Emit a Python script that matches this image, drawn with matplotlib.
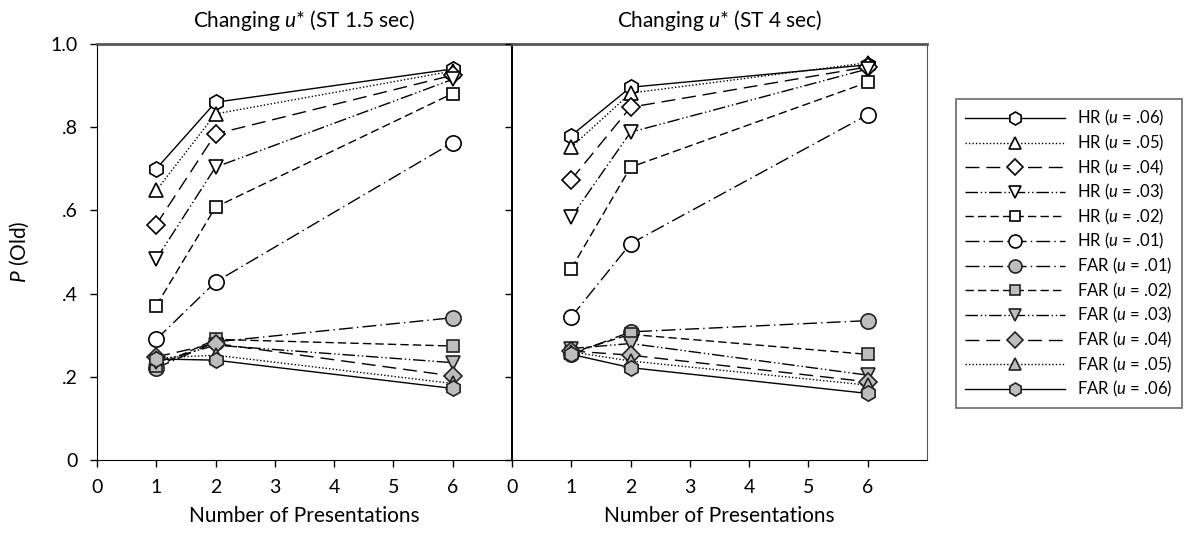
import numpy as np
import matplotlib
matplotlib.use('Agg')
import matplotlib.pyplot as plt
from matplotlib.lines import Line2D

fam = 'Lato'
plt.rcParams['font.family'] = [fam, 'DejaVu Sans']
plt.rcParams['mathtext.fontset'] = 'custom'
plt.rcParams['mathtext.rm'] = fam
plt.rcParams['mathtext.it'] = fam + ':italic'

## Data ##
presentations = [1, 2, 6]
u_labels = ['.06', '.05', '.04', '.03', '.02', '.01']

# ST 1.5 sec
hr_15 = {'.06': [0.700, 0.860, 0.940],
         '.05': [0.648, 0.832, 0.935],
         '.04': [0.566, 0.784, 0.925],
         '.03': [0.483, 0.704, 0.915],
         '.02': [0.371, 0.608, 0.881],
         '.01': [0.290, 0.428, 0.763]}
far_15 = {'.01': [0.221, 0.284, 0.342],
          '.02': [0.225, 0.290, 0.274],
          '.03': [0.235, 0.276, 0.234],
          '.04': [0.248, 0.280, 0.202],
          '.05': [0.245, 0.252, 0.184],
          '.06': [0.243, 0.240, 0.172]}

# ST 4 sec
hr_4 = {'.06': [0.780, 0.896, 0.950],
        '.05': [0.752, 0.882, 0.955],
        '.04': [0.674, 0.848, 0.945],
        '.03': [0.584, 0.788, 0.940],
        '.02': [0.460, 0.704, 0.908],
        '.01': [0.344, 0.520, 0.830]}
far_4 = {'.01': [0.254, 0.308, 0.335],
         '.02': [0.258, 0.302, 0.254],
         '.03': [0.268, 0.280, 0.204],
         '.04': [0.262, 0.252, 0.188],
         '.05': [0.260, 0.238, 0.180],
         '.06': [0.254, 0.222, 0.160]}

# styles per u value
marker = {'.06': 'h', '.05': '^', '.04': 'D', '.03': 'v', '.02': 's', '.01': 'o'}
msize = {'.06': 11, '.05': 10, '.04': 9, '.03': 10, '.02': 9, '.01': 11}
lstyle = {'.06': '-',
          '.05': (0, (1, 1.5)),
          '.04': (0, (10, 5)),
          '.03': (0, (9, 2, 1, 2, 1, 2)),
          '.02': (0, (6, 3)),
          '.01': (0, (10, 3, 1, 3))}
gray = '#bdbdbd'

fig = plt.figure(figsize=(11.88, 5.33), dpi=100)
ax1 = fig.add_axes([97/1188, 1-460/533, 415/1188, 416/533])
ax2 = fig.add_axes([512/1188, 1-460/533, 415/1188, 416/533])


def draw(ax, hr, far):
    for u in u_labels:
        ax.plot(presentations, hr[u], linestyle=lstyle[u], color='black', lw=1,
                marker=marker[u], ms=msize[u], mfc='white', mec='black', mew=1.2)
    for u in u_labels[::-1]:
        ax.plot(presentations, far[u], linestyle=lstyle[u], color='black', lw=1,
                marker=marker[u], ms=msize[u], mfc=gray, mec='#222222', mew=1.2)
    ax.set_xlim(0, 7)
    ax.set_ylim(0, 1.0)
    ax.set_xticks(range(7))
    ax.set_yticks([0, .2, .4, .6, .8, 1.0])
    ax.tick_params(direction='out', length=5, width=1, labelsize=14, pad=9)
    ax.spines['top'].set_color('#555555')
    ax.spines['top'].set_linewidth(2)
    ax.set_xlabel('Number of Presentations', fontsize=15, labelpad=7)


draw(ax1, hr_15, far_15)
draw(ax2, hr_4, far_4)

ax1.set_yticklabels(['0', '.2', '.4', '.6', '.8', '1.0'])
ax1.spines['right'].set_visible(False)
ax2.set_yticklabels([])
ax2.spines['left'].set_linewidth(1.4)
ax2.spines['right'].set_color('#555555')
ax1.set_ylabel('$P$ (Old)', fontsize=15, labelpad=14)

ax1.set_title('Changing $u$* (ST 1.5 sec)', fontsize=15, pad=12)
ax2.set_title('Changing $u$* (ST 4 sec)', fontsize=15, pad=12)

# legend
handles = []
labels = []
for u in u_labels:
    handles.append(Line2D([], [], linestyle=lstyle[u], color='black', lw=1,
                          marker=marker[u], ms=msize[u], mfc='white', mec='black', mew=1.2))
    labels.append('HR ($u$ = %s)' % u)
for u in u_labels[::-1]:
    handles.append(Line2D([], [], linestyle=lstyle[u], color='black', lw=1,
                          marker=marker[u], ms=msize[u], mfc=gray, mec='#222222', mew=1.2))
    labels.append('FAR ($u$ = %s)' % u)

leg = fig.legend(handles, labels, loc='upper left', bbox_to_anchor=(956/1188, 1-99/533),
                 fontsize=12, handlelength=6.0, handletextpad=0.7, labelspacing=0.27,
                 markerscale=0.85, fancybox=False, borderpad=0.55, borderaxespad=0,
                 frameon=True)
leg.get_frame().set_edgecolor('#444444')
leg.get_frame().set_linewidth(1.2)

plt.savefig('out.png', dpi=100)
